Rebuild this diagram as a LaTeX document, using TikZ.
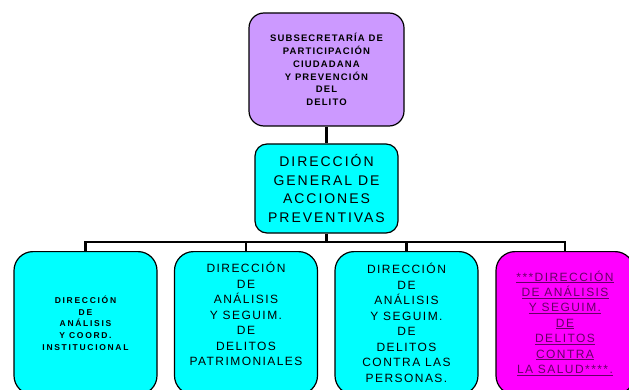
\documentclass[tikz,border=0pt]{standalone}
\usepackage{fontspec}
\setmainfont{Liberation Sans}
\newfontfamily\espaciada[LetterSpace=12]{Liberation Sans}
\newfontfamily\media[LetterSpace=14]{Liberation Sans}
\newfontfamily\ancha[LetterSpace=20]{Liberation Sans}
\definecolor{lila}{HTML}{CC99FF}
\definecolor{cian}{HTML}{00FFFF}
\definecolor{fucsia}{HTML}{FF00FF}
\definecolor{morado}{HTML}{660066}
\newcommand{\subr}[1]{\underline{#1}}
\tikzset{
  caja/.style={draw=black, line width=1.2pt, rounded corners=#1, align=center, inner sep=0pt},
  inferior/.style={caja=19pt, fill=cian, anchor=north, minimum width=143pt, minimum height=143pt,
    font=\espaciada\fontsize{12}{15.5}\selectfont},
  conector/.style={line width=2.8pt},
}
\begin{document}
\begin{tikzpicture}[x=1pt,y=-1pt]
    \useasboundingbox (0,0) rectangle (629,390);
    % --- subsecretaria ---
    \node[caja=15pt, fill=lila, minimum width=155pt, minimum height=113pt,
          font=\espaciada\fontsize{9.5}{12.7}\selectfont\bfseries] (subsec) at (326.5,69.5)
          {SUBSECRETARÍA DE\\PARTICIPACIÓN\\CIUDADANA\\Y PREVENCIÓN\\DEL\\DELITO};
    % --- direccion general ---
    \node[caja=12pt, fill=cian, minimum width=143pt, minimum height=89pt,
          font=\media\fontsize{14}{18.5}\selectfont] (dgap) at (326.5,188.5)
          {DIRECCIÓN\\GENERAL DE\\ACCIONES\\PREVENTIVAS};
    % --- direcciones de area ---
    \node[inferior, font=\ancha\fontsize{8.5}{11.7}\selectfont\bfseries] (dacoord) at (85.5,251)
          {DIRECCIÓN\\DE\\ANÁLISIS\\Y COORD.\\INSTITUCIONAL};
    \node[inferior, text depth=18pt] (dpatrim) at (246,251)
          {DIRECCIÓN\\DE\\ANÁLISIS\\Y SEGUIM.\\DE\\DELITOS\\PATRIMONIALES};
    \node[inferior] (dpersonas) at (406.5,251)
          {DIRECCIÓN\\DE\\ANÁLISIS\\Y SEGUIM.\\DE\\DELITOS\\CONTRA LAS\\PERSONAS.};
    \node[inferior, fill=fucsia, minimum width=138pt, text=morado,
          font=\espaciada\fontsize{12}{15.4}\selectfont] (dsalud) at (565,251)
          {\subr{***DIRECCIÓN}\\\subr{DE ANÁLISIS}\\\subr{Y SEGUIM.}\\\subr{DE}\\\subr{DELITOS}\\\subr{CONTRA}\\\subr{LA SALUD****.}};
    % --- conectores ---
    \coordinate (barra) at (326.5,242);
    \draw[conector] (subsec.south) -- (dgap.north);
    \draw[conector] (dgap.south) -- (barra);
    \draw[conector] (dacoord.north) |- (barra) -| (dsalud.north);
    \draw[conector] (dpatrim.north) -- (dpatrim.north |- barra);
    \draw[conector] (dpersonas.north) -- (dpersonas.north |- barra);
\end{tikzpicture}
\end{document}
